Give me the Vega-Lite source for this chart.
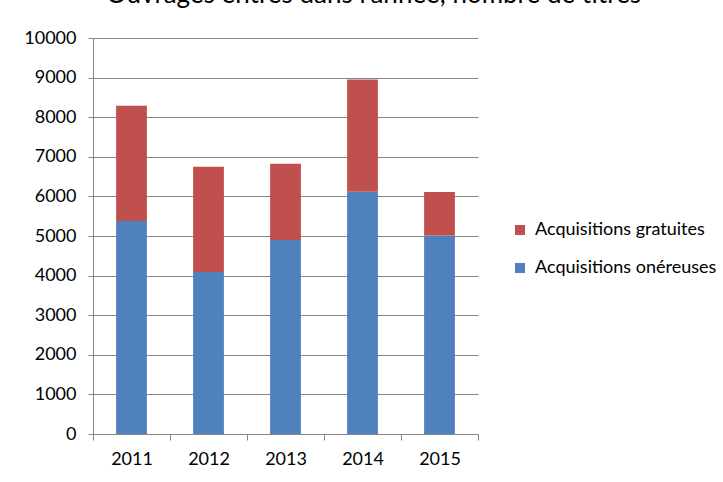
{
  "$schema": "https://vega.github.io/schema/vega-lite/v6.json",
  "autosize": {"type": "none"},
  "width": 385,
  "height": 396,
  "padding": {"left": 93, "top": 38, "right": 245, "bottom": 48},
  "background": "white",
  "title": {
    "text": "Ouvrages entrés dans l'année, nombre de titres",
    "font": "Lato",
    "fontSize": 26,
    "fontWeight": "normal",
    "color": "#000000",
    "anchor": "middle",
    "frame": "group",
    "dx": 88,
    "baseline": "alphabetic",
    "offset": 0
  },
  "data": {
    "values": [
      {"annee": "2011", "type": "Acquisitions onéreuses", "titres": 5380},
      {"annee": "2011", "type": "Acquisitions gratuites", "titres": 2910},
      {"annee": "2012", "type": "Acquisitions onéreuses", "titres": 4090},
      {"annee": "2012", "type": "Acquisitions gratuites", "titres": 2660},
      {"annee": "2013", "type": "Acquisitions onéreuses", "titres": 4900},
      {"annee": "2013", "type": "Acquisitions gratuites", "titres": 1925},
      {"annee": "2014", "type": "Acquisitions onéreuses", "titres": 6120},
      {"annee": "2014", "type": "Acquisitions gratuites", "titres": 2830},
      {"annee": "2015", "type": "Acquisitions onéreuses", "titres": 5010},
      {"annee": "2015", "type": "Acquisitions gratuites", "titres": 1100}
    ]
  },
  "mark": {"type": "bar", "width": {"band": 0.4}},
  "encoding": {
    "x": {
      "field": "annee",
      "type": "nominal",
      "scale": {"paddingInner": 0, "paddingOuter": 0},
      "axis": {
        "title": null,
        "labelAngle": 0,
        "tickBand": "extent",
        "tickSize": 6,
        "labelPadding": 10,
        "tickColor": "#868686",
        "domainColor": "#868686",
        "labelFont": "Lato",
        "labelFontSize": 18,
        "labelColor": "#000000",
        "grid": false
      }
    },
    "y": {
      "field": "titres",
      "type": "quantitative",
      "stack": "zero",
      "scale": {"domain": [0, 10000], "nice": false},
      "axis": {
        "title": null,
        "values": [0, 1000, 2000, 3000, 4000, 5000, 6000, 7000, 8000, 9000, 10000],
        "format": "d",
        "tickSize": 5,
        "labelPadding": 12,
        "tickColor": "#868686",
        "domainColor": "#868686",
        "gridColor": "#868686",
        "gridOpacity": 1,
        "labelFont": "Lato",
        "labelFontSize": 18,
        "labelColor": "#000000"
      }
    },
    "color": {
      "field": "type",
      "type": "nominal",
      "scale": {
        "domain": ["Acquisitions gratuites", "Acquisitions onéreuses"],
        "range": ["#C0504D", "#4F81BD"]
      },
      "legend": {
        "title": null,
        "orient": "none",
        "legendX": 418,
        "legendY": 183,
        "symbolType": "square",
        "symbolSize": 100,
        "symbolStrokeWidth": 0,
        "symbolOpacity": 1,
        "labelFont": "Lato",
        "labelFontSize": 18,
        "labelLimit": 300,
        "labelColor": "#000000",
        "labelOffset": 6,
        "rowPadding": 20
      }
    },
    "order": {"field": "type", "sort": "descending"}
  },
  "config": {
    "view": {"stroke": null},
    "axis": {"domainWidth": 1, "tickWidth": 1, "gridWidth": 1}
  }
}
